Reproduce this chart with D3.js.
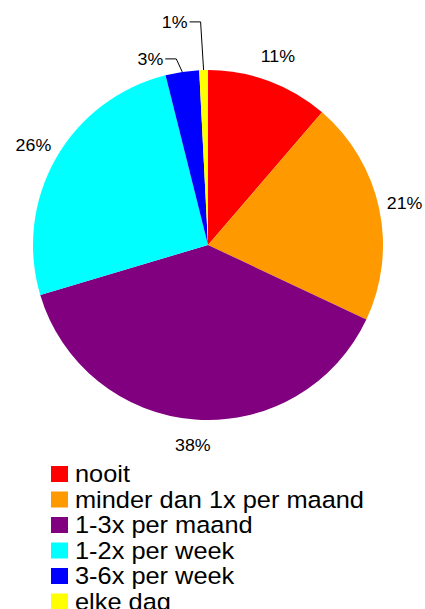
<!DOCTYPE html>
<html>
<head>
	<meta charset="utf-8">
	<title>Pie</title>
	<script type="text/javascript" src="https://cdnjs.cloudflare.com/ajax/libs/d3/7.8.5/d3.min.js"></script>
	<style>
		body { margin: 0; background: #fff; }
		text { font-family: "Liberation Sans", Arial, sans-serif; fill: #000; }
	</style>
</head>
<body>
	<svg id="chart" width="425" height="609"></svg>
	<script type="text/javascript">
		var categories = ["nooit", "minder dan 1x per maand", "1-3x per maand", "1-2x per week", "3-6x per week", "elke dag"];
		var values = [11.3, 20.7, 38.4, 25.7, 3.1, 0.8];
		var labels = ["11%", "21%", "38%", "26%", "3%", "1%"];
		var colors = ["#ff0000", "#ff9900", "#800080", "#00ffff", "#0000ff", "#ffff00"];

		var svg = d3.select("#chart");
		var cx = 208, cy = 245, r = 175;
		var stretch = 1.08; // text in the original is a bit wider than Arial

		var pie = d3.pie().sort(null).value(function (d) { return d; });
		var arcs = pie(values);
		var arc = d3.arc().innerRadius(0).outerRadius(r);

		var g = svg.append("g").attr("transform", "translate(" + cx + "," + cy + ")");

		g.selectAll("path.slice")
			.data(arcs)
			.enter().append("path")
			.attr("class", "slice")
			.attr("d", arc)
			.attr("fill", function (d, i) { return colors[i]; });

		function addLabel(x, y, anchor, txt) {
			g.append("text")
				.attr("transform", "translate(" + x + "," + y + ") scale(" + stretch + ",1)")
				.attr("text-anchor", anchor)
				.attr("dominant-baseline", "central")
				.style("font-size", "16.5px")
				.text(txt);
		}

		//labels: big slices centred outside, small ones stacked with leader lines
		var labelR = 201;
		var prevY = null;
		arcs.forEach(function (d, i) {
			var mid = (d.startAngle + d.endAngle) / 2;
			var sx = Math.sin(mid), sy = -Math.cos(mid);
			if (d.value >= 5) {
				addLabel(sx * labelR, sy * labelR, "middle", labels[i]);
			} else {
				var ex = sx * r, ey = sy * r;
				var ly = ey - 13;
				if (prevY != null) ly = Math.min(ly, prevY - 37);
				prevY = ly;
				var bx = Math.abs(ly - ey) > 20 ? ex - 3 : ex - 6;
				g.append("polyline")
					.attr("points", [[ex, ey], [bx, ly], [bx - 11, ly]].map(function (p) { return p.join(","); }).join(" "))
					.attr("fill", "none")
					.attr("stroke", "#000")
					.attr("stroke-width", 1);
				addLabel(bx - 13, ly, "end", labels[i]);
			}
		});

		//legend
		var legend = svg.append("g").attr("transform", "translate(51,482)");
		var rows = legend.selectAll("g.row")
			.data(categories)
			.enter().append("g")
			.attr("class", "row")
			.attr("transform", function (d, i) { return "translate(0," + (i * 25.5) + ")"; });
		rows.append("rect")
			.attr("x", 0)
			.attr("y", -16)
			.attr("width", 17)
			.attr("height", 16)
			.attr("fill", function (d, i) { return colors[i]; });
		rows.append("text")
			.attr("transform", "translate(24,0) scale(" + stretch + ",1)")
			.style("font-size", "23.5px")
			.text(function (d) { return d; });
	</script>
</body>
</html>
